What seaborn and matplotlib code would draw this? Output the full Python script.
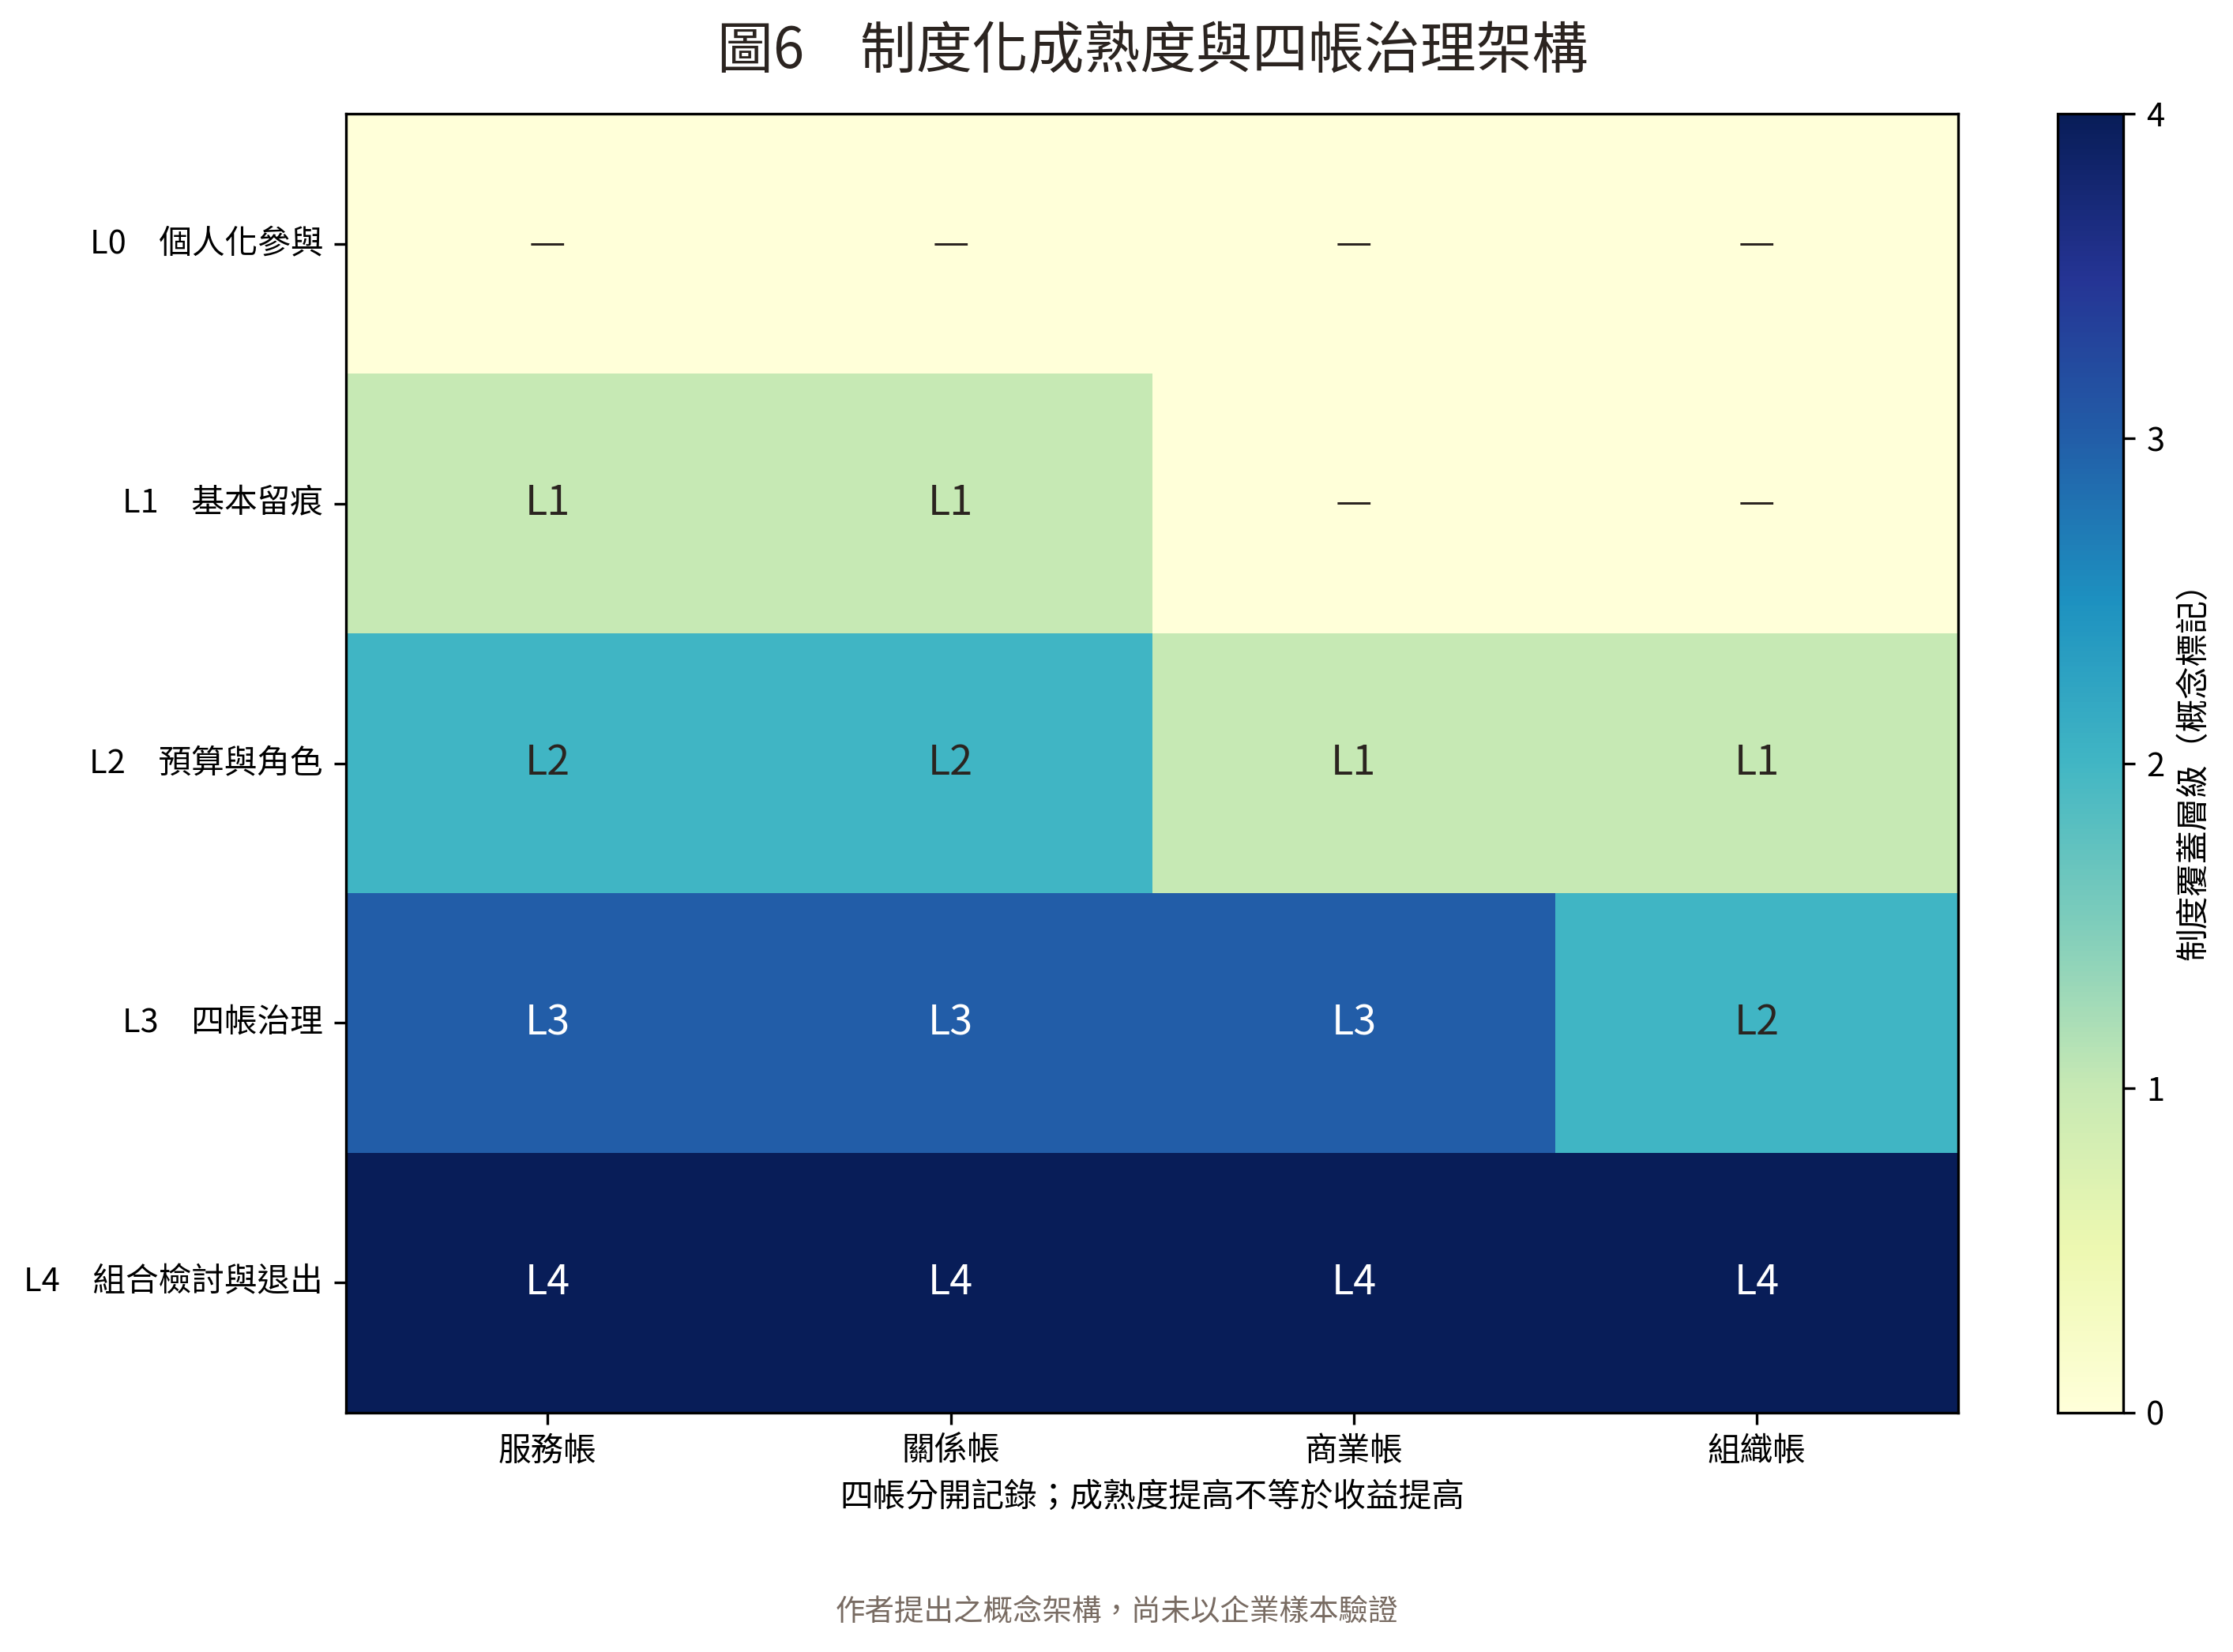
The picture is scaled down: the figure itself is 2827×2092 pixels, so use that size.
import matplotlib
matplotlib.use("Agg")
import matplotlib.pyplot as plt
import seaborn as sns
import numpy as np
import pandas as pd

plt.rcParams['font.family'] = ['Noto Sans CJK TC', 'DejaVu Sans']

# ---- data ----
accounts = ["服務帳", "關係帳", "商業帳", "組織帳"]
levels = ["L0　個人化參與", "L1　基本留痕", "L2　預算與角色", "L3　四帳治理", "L4　組合檢討與退出"]
row_L0 = [0, 0, 0, 0]
row_L1 = [1, 1, 0, 0]
row_L2 = [2, 2, 1, 1]
row_L3 = [3, 3, 3, 2]
row_L4 = [4, 4, 4, 4]
level_names = ["—", "L1", "L2", "L3", "L4"]

title = "圖6　制度化成熟度與四帳治理架構"
xlabel = "四帳分開記錄；成熟度提高不等於收益提高"
cbar_label = "制度覆蓋層級（概念標記）"
footnote = "作者提出之概念架構，尚未以企業樣本驗證"

values = np.array([row_L0, row_L1, row_L2, row_L3, row_L4])
df = pd.DataFrame(values, index=levels, columns=accounts)
labels = np.vectorize(lambda v: level_names[v])(values)

dark = "#2b2420"

fig = plt.figure(figsize=(2827 / 300, 2092 / 300), dpi=300)
ax = fig.add_axes([0.155, 0.145, 0.722, 0.786])
cax = fig.add_axes([0.9215, 0.145, 0.0294, 0.786])

sns.heatmap(df, ax=ax, cbar_ax=cax, cmap="YlGnBu", vmin=0, vmax=4,
            annot=labels, fmt="", annot_kws={"fontsize": 12.5},
            cbar_kws={"label": cbar_label, "ticks": [0, 1, 2, 3, 4]})

# annotation colours: white on the two darkest levels
flat = values.flatten()
for t, v in zip(ax.texts, flat):
    t.set_color("white" if v >= 3 else dark)

for sp in ax.spines.values():
    sp.set_visible(True)
    sp.set_color("black")
    sp.set_linewidth(0.8)

cb = ax.collections[0].colorbar
cb.outline.set_visible(True)
cb.outline.set_linewidth(0.8)
cb.outline.set_edgecolor("black")
cb.ax.tick_params(labelsize=10)
cb.set_label(cbar_label, fontsize=10)

ax.tick_params(axis="both", labelsize=10, length=3.5, width=0.8)
ax.set_yticklabels(ax.get_yticklabels(), rotation=0)
ax.set_xticklabels(ax.get_xticklabels(), rotation=0)
ax.set_ylabel("")
ax.set_xlabel(xlabel, fontsize=10)
ax.set_title(title, fontsize=17, color=dark, pad=14)

fig.text(0.5, 0.0244, footnote, ha="center", va="center", fontsize=9, color="#786b62")

fig.savefig("out.png", dpi=300)
